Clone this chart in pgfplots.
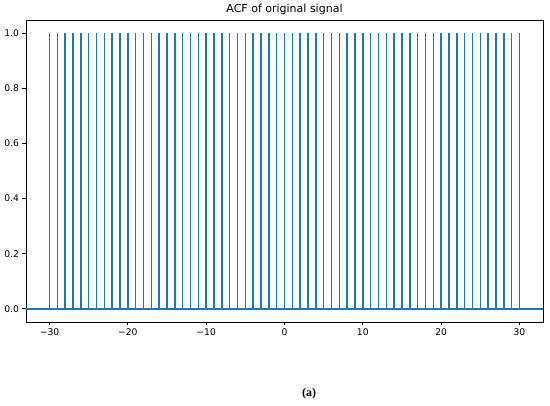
\documentclass[border=0pt]{standalone}
\usepackage{pgfplots}
\pgfplotsset{compat=1.18}
\usepackage{fontspec}
\setmainfont{DejaVu Sans}
\newfontfamily\capfont{Liberation Serif}
\definecolor{mplblue}{HTML}{1F77B4}
\begin{document}
\begin{tikzpicture}[x=1pt,y=1pt]
\path[use as bounding box] (0,0) rectangle (550,406);
\begin{axis}[
  at={(26pt,84pt)}, anchor=south west,
  scale only axis, width=517pt, height=302pt,
  xmin=-33, xmax=33, ymin=-0.0475, ymax=1.0475,
  xtick={-30,-20,-10,0,10,20,30},
  xticklabels={−30,−20,−10,0,10,20,30},
  ytick={0,0.2,0.4,0.6,0.8,1.0},
  yticklabels={0.0,0.2,0.4,0.6,0.8,1.0},
  tick align=outside, tick pos=left,
  major tick length=3.5pt,
  every tick/.style={black, line width=0.9pt},
  axis line style={line width=0.9pt},
  tick label style={font=\fontsize{9.2}{11}\selectfont},
  xticklabel style={yshift=0pt},
  title={ACF of original signal},
  title style={font=\fontsize{11}{13}\selectfont, yshift=-4pt},
  clip=true,
]
\addplot[ycomb, mplblue, line width=1.6pt, mark=none] coordinates {
(-30,1)(-29,1)(-28,1)(-27,1)(-26,1)(-25,1)(-24,1)(-23,1)(-22,1)(-21,1)
(-20,1)(-19,1)(-18,1)(-17,1)(-16,1)(-15,1)(-14,1)(-13,1)(-12,1)(-11,1)
(-10,1)(-9,1)(-8,1)(-7,1)(-6,1)(-5,1)(-4,1)(-3,1)(-2,1)(-1,1)
(0,1)(1,1)(2,1)(3,1)(4,1)(5,1)(6,1)(7,1)(8,1)(9,1)
(10,1)(11,1)(12,1)(13,1)(14,1)(15,1)(16,1)(17,1)(18,1)(19,1)
(20,1)(21,1)(22,1)(23,1)(24,1)(25,1)(26,1)(27,1)(28,1)(29,1)(30,1)
};
\addplot[mplblue, line width=1.6pt, mark=none] coordinates {(-33,0)(33,0)};
\end{axis}
\node at (309pt,12pt) {\capfont\fontsize{12}{14}\selectfont\textbf{(a)}};
\end{tikzpicture}
\end{document}
